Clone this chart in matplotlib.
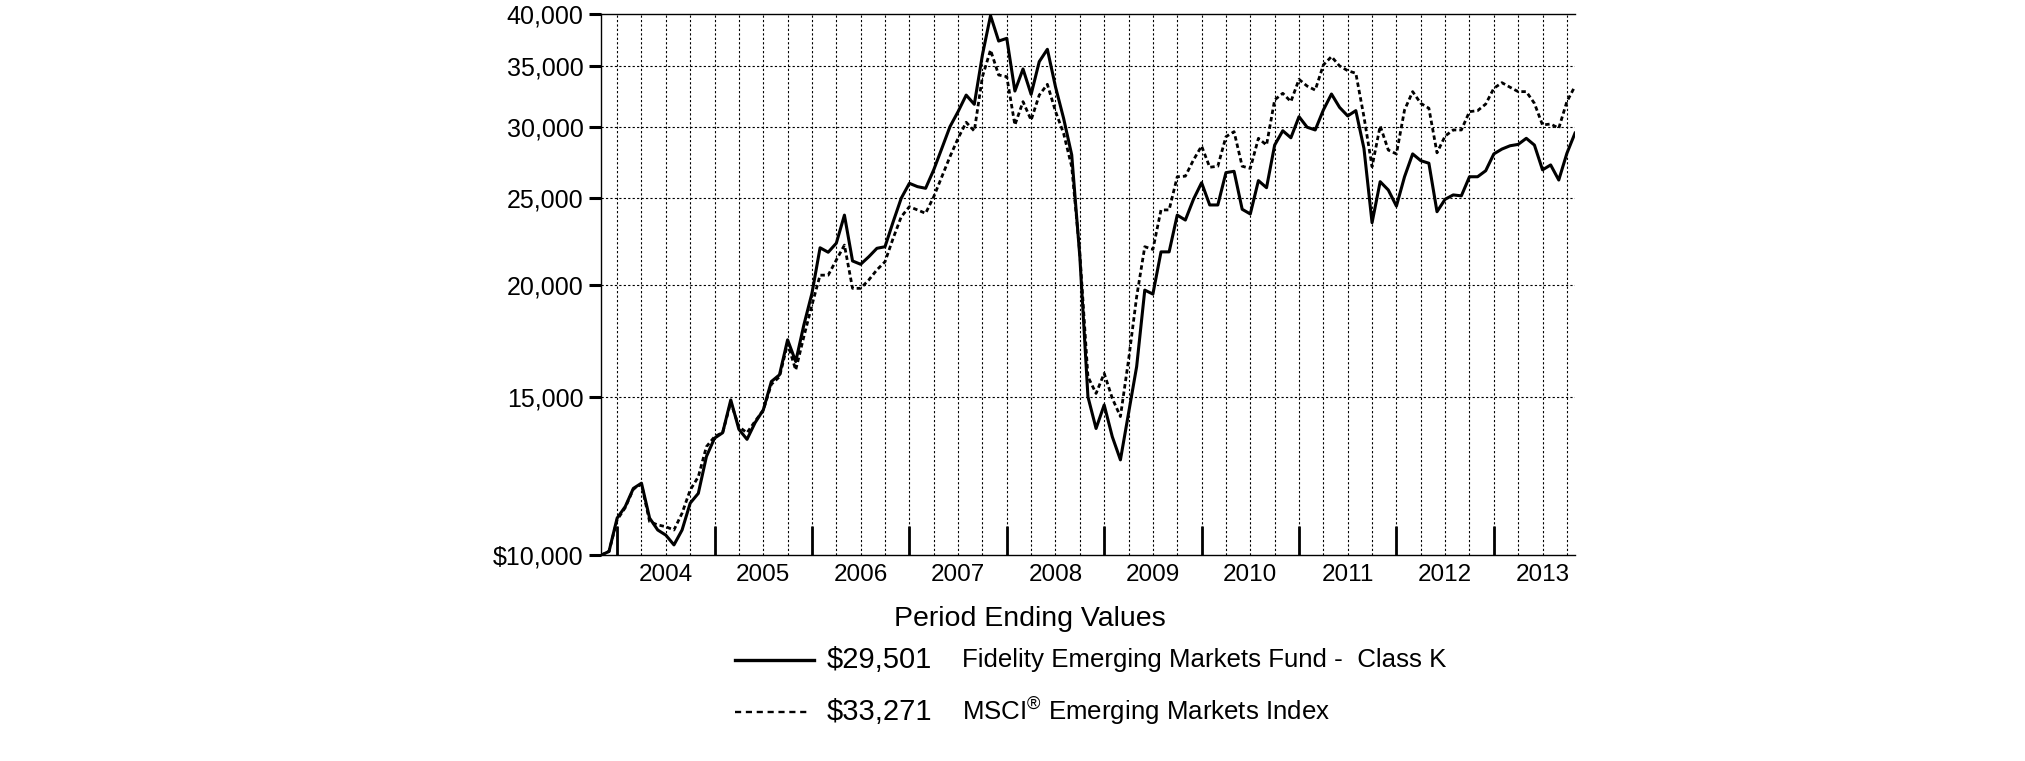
import matplotlib
matplotlib.use("Agg")
import matplotlib.pyplot as plt
from matplotlib.lines import Line2D
from matplotlib.ticker import FixedLocator, NullFormatter, FixedFormatter
import numpy as np

plt.rcParams['font.family'] = ['Liberation Sans', 'DejaVu Sans']
plt.rcParams['mathtext.fontset'] = 'custom'
plt.rcParams['mathtext.rm'] = 'Liberation Sans'
plt.rcParams['mathtext.it'] = 'Liberation Sans'

# monthly values, Oct 2003 .. Oct 2013 (hypothetical $10,000 investment)
fund = [10000, 10100, 11000, 11330, 11870, 12030, 11000, 10670, 10530, 10270, 10670, 11430,
        11720, 12880, 13500, 13690, 14890, 13810, 13460, 14050, 14510, 15610, 15880, 17370,
        16430, 18040, 19570, 21990, 21740, 22250, 23910, 21260, 21080, 21490, 21960, 22050,
        23500, 24970, 25940, 25720, 25610, 26850, 28370, 29990, 31170, 32520, 31760, 36050,
        39870, 37350, 37610, 32860, 34770, 32580, 35430, 36570, 33220, 30640, 27900, 21490,
        15010, 13840, 14700, 13550, 12770, 14390, 16220, 19730, 19530, 21760, 21760, 23910,
        23610, 24900, 25980, 24540, 24540, 26660, 26750, 24270, 23980, 26120, 25650, 28610,
        29680, 29150, 30770, 29950, 29740, 31300, 32610, 31510, 30830, 31250, 28370, 23450,
        26050, 25500, 24470, 26380, 27970, 27490, 27310, 24120, 24900, 25180, 25120, 26380,
        26380, 26790, 27970, 28320, 28560, 28660, 29110, 28610, 26850, 27190, 26160, 28010,
        29501]

index = [10000, 10100, 10950, 11300, 11850, 12000, 10900, 10810, 10760, 10670, 11140, 11820,
         12230, 13210, 13550, 13700, 14800, 13900, 13690, 14100, 14500, 15500, 15800, 17200,
         16080, 17510, 18990, 20500, 20500, 21310, 22140, 19820, 19820, 20250, 20780, 21220,
         22530, 23810, 24430, 24230, 24020, 25060, 26380, 27770, 29110, 30330, 29660, 34090,
         36500, 34240, 34090, 30120, 31980, 30500, 32520, 33430, 31200, 29480, 27070, 21680,
         15800, 15140, 15940, 14950, 14270, 16490, 19400, 22050, 21900, 24230, 24230, 26380,
         26420, 27540, 28540, 27030, 27100, 29230, 29610, 27100, 26950, 29110, 28610, 32120,
         32670, 31980, 33860, 33280, 32940, 35130, 35890, 35040, 34620, 34390, 30770, 27070,
         30050, 28250, 27970, 31300, 32810, 31840, 31440, 28050, 29280, 29740, 29740, 31170,
         31250, 31780, 33090, 33570, 33180, 32810, 32810, 31840, 30120, 30200, 29870, 31980,
         33271]

years = ['2004', '2005', '2006', '2007', '2008', '2009', '2010', '2011', '2012', '2013']
y_ticks = [10000, 15000, 20000, 25000, 30000, 35000, 40000]
y_labels = ['$10,000', '15,000', '20,000', '25,000', '30,000', '35,000', '40,000']

fund_label = 'Fidelity Emerging Markets Fund -  Class K'
index_label = r'MSCI$^{\mathrm{\u00ae}}$ Emerging Markets Index'.replace('\\u00ae', '\u00ae')

W, H = 2025, 761
fig = plt.figure(figsize=(W / 100, H / 100), dpi=100)
ax = fig.add_axes([600.9 / W, 1 - 555.3 / H, 974.1 / W, 541.0 / H])

months = np.arange(len(fund))
ax.set_yscale('log')
ax.set_xlim(0, len(fund) - 1)
ax.set_ylim(10000, 40000)

# quarterly vertical grid (quarter ends), horizontal grid at tick values
year_end = 2  # Dec 2003 is month 2
for q in np.arange(year_end, len(fund), 3):
    ax.axvline(q, color='black', lw=0.8, ls=(0, (2, 2)), zorder=1)
for v in y_ticks[1:-1]:
    ax.axhline(v, color='black', lw=0.8, ls=(0, (2, 2)), zorder=1)

ax.plot(months, index, color='black', lw=2.0, ls=(0, (1.6, 1.1)), zorder=3)
ax.plot(months, fund, color='black', lw=2.2, zorder=4)

# y axis
ax.yaxis.set_major_locator(FixedLocator(y_ticks))
ax.yaxis.set_major_formatter(FixedFormatter(y_labels))
ax.yaxis.set_minor_locator(FixedLocator([]))
ax.yaxis.set_minor_formatter(NullFormatter())
ax.tick_params(axis='y', which='major', direction='out', length=8.5, width=2.2,
               labelsize=18, pad=4)

# x axis: year boundaries as ticks, year labels centred in each year
ax.xaxis.set_major_locator(FixedLocator(np.arange(year_end, len(fund), 12)))
ax.xaxis.set_major_formatter(NullFormatter())
ax.xaxis.set_minor_locator(FixedLocator(np.arange(year_end + 6, year_end + 6 + 12 * len(years), 12)))
ax.xaxis.set_minor_formatter(FixedFormatter(years))
ax.tick_params(axis='x', which='major', direction='in', length=21, width=2.0)
ax.tick_params(axis='x', which='minor', length=0, labelsize=17.5, pad=6)

ax.spines['right'].set_visible(False)
for s in ['left', 'top', 'bottom']:
    ax.spines[s].set_linewidth(1.0)

# legend block below the chart
def fx(px):
    return px / W

def fy(py):
    return 1 - py / H

fig.text(fx(1030), fy(619), 'Period Ending Values', ha='center', va='center', fontsize=20.5)

fig.add_artist(Line2D([fx(735), fx(814)], [fy(660), fy(660)], color='black', lw=2.4))
fig.add_artist(Line2D([fx(735), fx(808)], [fy(712), fy(712)], color='black', lw=1.7,
                      ls=(0, (2.6, 2.0))))

fig.text(fx(827), fy(660), '$29,501', ha='left', va='center', fontsize=21)
fig.text(fx(827), fy(712), '$33,271', ha='left', va='center', fontsize=21)
fig.text(fx(962), fy(660), fund_label, ha='left', va='center', fontsize=18.6)
fig.text(fx(962), fy(712), index_label, ha='left', va='center', fontsize=18.6)

fig.savefig('out.png', dpi=100, facecolor='white')
